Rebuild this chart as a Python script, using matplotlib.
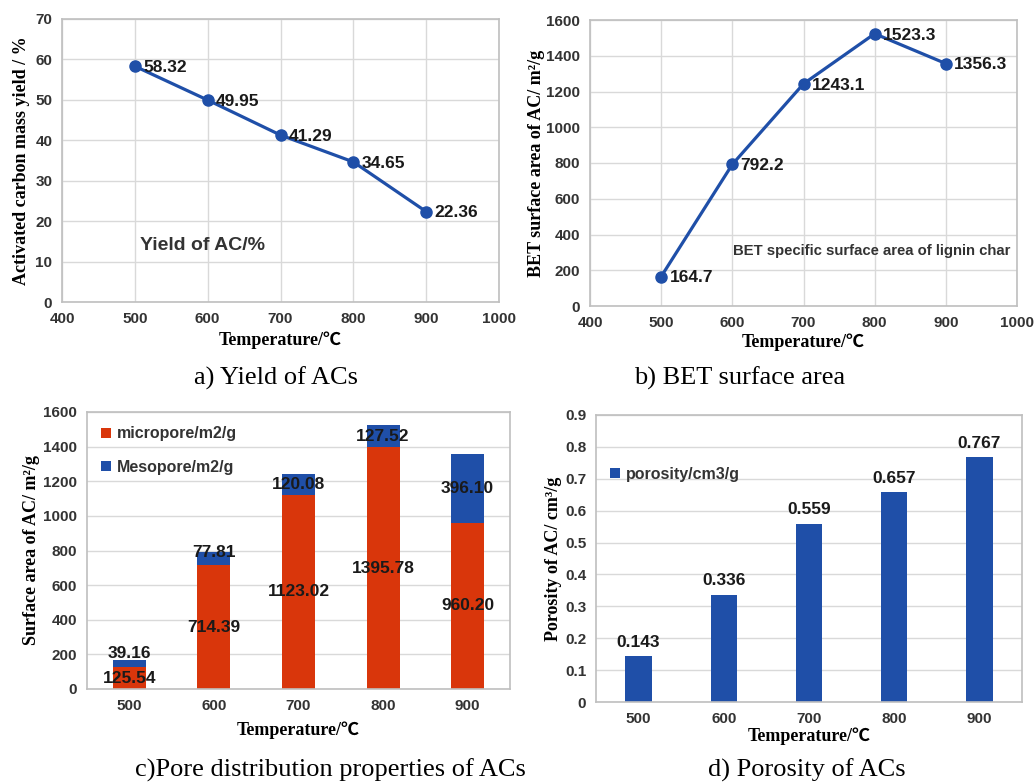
import numpy as np
import matplotlib
matplotlib.use('Agg')
import matplotlib.pyplot as plt

# data
temps = [500, 600, 700, 800, 900]
yield_ac = [58.32, 49.95, 41.29, 34.65, 22.36]
bet_area = [164.7, 792.2, 1243.1, 1523.3, 1356.3]
micropore = [125.54, 714.39, 1123.02, 1395.78, 960.20]
mesopore = [39.16, 77.81, 120.08, 127.52, 396.10]
porosity = [0.143, 0.336, 0.559, 0.657, 0.767]
temp_labels = ['500', '600', '700', '800', '900']

BLUE = '#1F4FA8'
RED = '#D9360B'
GRID = '#D9D9D9'
SPINE = '#BFBFBF'
TICK = '#333333'

sans = 'Liberation Sans'
serif = ['Liberation Serif', 'Noto Sans CJK SC', 'DejaVu Sans']

W, H = 1034, 783
fig = plt.figure(figsize=(W / 100, H / 100), dpi=100)


def make_ax(x0, y0, x1, y1):
    # pixel box -> figure fraction
    return fig.add_axes([x0 / W, 1 - y1 / H, (x1 - x0) / W, (y1 - y0) / H])


def style(ax, xgrid=True):
    for s in ax.spines.values():
        s.set_color(SPINE)
        s.set_linewidth(1.2)
    ax.tick_params(length=0, pad=7, labelsize=11, colors=TICK)
    for lab in ax.get_xticklabels() + ax.get_yticklabels():
        lab.set_family(sans)
        lab.set_fontweight('bold')
    ax.grid(axis='y', color=GRID, lw=1)
    if xgrid:
        ax.grid(axis='x', color=GRID, lw=1)
    ax.set_axisbelow(True)


lab_kw = dict(family=serif, fontweight='bold', fontsize=13)
val_kw = dict(family=sans, fontweight='bold', fontsize=12.5, color='#1a1a1a')
cap_kw = dict(family=serif, fontsize=19)
deg = 'Temperature/\u2103'

# ---- a) yield
ax = make_ax(62, 19, 499, 302)
ax.plot(temps, yield_ac, color=BLUE, lw=2.3, marker='o', ms=8)
ax.set_xlim(400, 1000)
ax.set_ylim(0, 70)
ax.set_xticks(np.arange(400, 1001, 100))
ax.set_yticks(np.arange(0, 71, 10))
style(ax)
for t, v in zip(temps, yield_ac):
    ax.annotate(f'{v:.2f}', (t, v), xytext=(6, -1), textcoords='offset points',
                ha='left', va='center', **val_kw)
ax.text(507, 14, 'Yield of AC/%', family=sans, fontweight='bold', fontsize=14,
        color='#333333', va='center')
ax.set_xlabel(deg, labelpad=4, **lab_kw)
ax.set_ylabel('Activated carbon mass yield / %', labelpad=4, **lab_kw)
fig.text(276 / W, 1 - 378 / H, 'a) Yield of ACs', ha='center', va='center', **cap_kw)

# ---- b) BET
ax = make_ax(590, 20, 1017, 306)
ax.plot(temps, bet_area, color=BLUE, lw=2.3, marker='o', ms=8)
ax.set_xlim(400, 1000)
ax.set_ylim(0, 1600)
ax.set_xticks(np.arange(400, 1001, 100))
ax.set_yticks(np.arange(0, 1601, 200))
style(ax)
for t, v in zip(temps, bet_area):
    ax.annotate(f'{v:.1f}', (t, v), xytext=(6, -1), textcoords='offset points',
                ha='left', va='center', **val_kw)
ax.text(601, 308, 'BET specific surface area of lignin char', family=sans,
        fontweight='bold', fontsize=10.7, color='#333333', va='center')
ax.set_xlabel(deg, labelpad=3, **lab_kw)
ax.set_ylabel('BET surface area of AC/ m\u00b2/g', labelpad=1, **lab_kw)
fig.text(740 / W, 1 - 378 / H, 'b) BET surface area', ha='center', va='center', **cap_kw)

# ---- c) pore distribution
ax = make_ax(87, 412, 510, 689)
x = np.arange(len(temps))
ax.bar(x, micropore, width=0.39, color=RED, label='micropore/m2/g')
ax.bar(x, mesopore, width=0.39, bottom=micropore, color=BLUE, label='Mesopore/m2/g')
ax.set_xlim(-0.5, 4.5)
ax.set_ylim(0, 1600)
ax.set_xticks(x)
ax.set_xticklabels(temp_labels)
ax.set_yticks(np.arange(0, 1601, 200))
style(ax, xgrid=False)
meso_shift = [60, 38, 0, 0, 0]  # label nudges for thin segments
for i in range(len(temps)):
    ax.text(i, micropore[i] / 2, f'{micropore[i]:.2f}', ha='center', va='center', **val_kw)
    ax.text(i, micropore[i] + mesopore[i] / 2 + meso_shift[i], f'{mesopore[i]:.2f}',
            ha='center', va='center', **val_kw)
leg = ax.legend(loc='upper left', frameon=False, handlelength=0.6, handleheight=0.6,
                handletextpad=0.4, labelspacing=1.15, borderaxespad=0.5,
                prop=dict(family=sans, weight='bold', size=11.5))
for t in leg.get_texts():
    t.set_color('#333333')
ax.set_xlabel(deg, labelpad=6, **lab_kw)
ax.set_ylabel('Surface area of AC/ m\u00b2/g', labelpad=2, **lab_kw)
fig.text(330 / W, 1 - 770 / H, 'c)Pore distribution properties of ACs', ha='center',
         va='center', **cap_kw)

# ---- d) porosity
ax = make_ax(596, 415, 1022, 702)
ax.bar(x, porosity, width=0.31, color=BLUE, label='porosity/cm3/g')
ax.set_xlim(-0.5, 4.5)
ax.set_ylim(0, 0.9)
ax.set_xticks(x)
ax.set_xticklabels(temp_labels)
ax.set_yticks(np.round(np.arange(0, 0.91, 0.1), 1))
ax.set_yticklabels(['0'] + [f'{v:.1f}' for v in np.arange(0.1, 0.91, 0.1)])
style(ax, xgrid=False)
for i, v in enumerate(porosity):
    ax.annotate(f'{v:.3f}', (i, v), xytext=(0, 10), textcoords='offset points',
                ha='center', va='center', **val_kw)
leg = ax.legend(loc='upper left', bbox_to_anchor=(0.0, 0.87), frameon=False,
                handlelength=0.6, handleheight=0.6, handletextpad=0.4,
                prop=dict(family=sans, weight='bold', size=11.5))
for t in leg.get_texts():
    t.set_color('#333333')
ax.set_xlabel(deg, labelpad=1, **lab_kw)
ax.set_ylabel('Porosity of AC/ cm\u00b3/g', labelpad=2, **lab_kw)
fig.text(807 / W, 1 - 770 / H, 'd) Porosity of ACs', ha='center', va='center', **cap_kw)

fig.savefig('out.png', dpi=100)
